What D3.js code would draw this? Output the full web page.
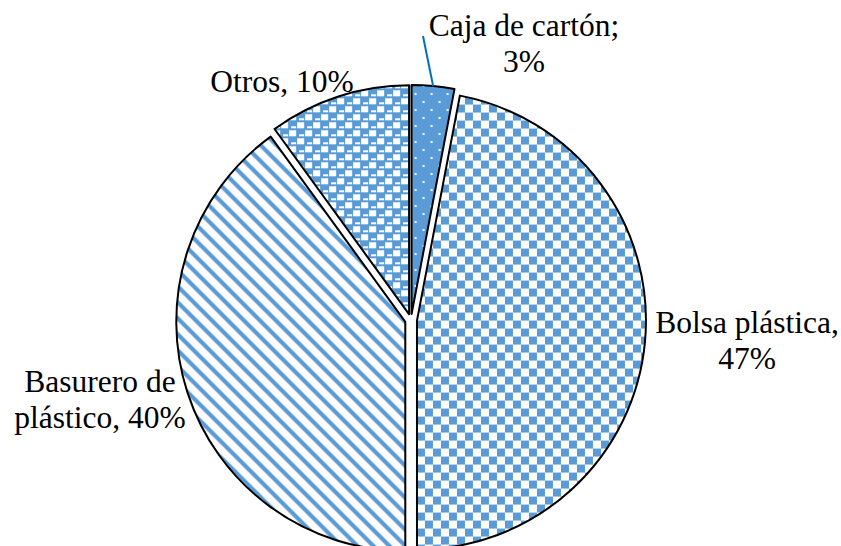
<!DOCTYPE html>
<html>
<head>
<meta charset="utf-8">
<script src="https://cdn.jsdelivr.net/npm/d3@7"></script>
<style>
  body { margin: 0; background: #fff; }
  svg { display: block; }
  .label { font-family: 'Liberation Serif', 'Times New Roman', serif; font-size: 31.5px; fill: #000; }
</style>
</head>
<body>
<div id="pie-chart"></div>
<script>
// data
const categories = ['Caja de cartón', 'Bolsa plástica', 'Basurero de plástico', 'Otros']
const values = [3, 47, 40, 10]
const labelLines = [
  ['Caja de cartón;', '3%'],
  ['Bolsa plástica,', '47%'],
  ['Basurero de', 'plástico, 40%'],
  ['Otros, 10%']
]

const width = 841
const height = 546
const radius = 229
const explode = 6
const cx = 411
const cy = 320

const blue = '#5b9bd5'

const svg = d3
  .select('#pie-chart')
  .append('svg')
  .attr('width', width)
  .attr('height', height)

const defs = svg.append('defs')

// dotted (Caja)
const dots = defs.append('pattern')
  .attr('id', 'pat-dots')
  .attr('patternUnits', 'userSpaceOnUse')
  .attr('width', 16)
  .attr('height', 16)
dots.append('rect').attr('width', 16).attr('height', 16).attr('fill', blue)
dots.append('rect').attr('x', 3).attr('y', 3).attr('width', 2).attr('height', 2).attr('fill', '#fff')
dots.append('rect').attr('x', 11).attr('y', 11).attr('width', 2).attr('height', 2).attr('fill', '#fff')

// large checkerboard (Bolsa)
const checker = defs.append('pattern')
  .attr('id', 'pat-checker')
  .attr('patternUnits', 'userSpaceOnUse')
  .attr('width', 16)
  .attr('height', 16)
checker.append('rect').attr('width', 16).attr('height', 16).attr('fill', '#fff')
checker.append('rect').attr('width', 8).attr('height', 8).attr('fill', blue)
checker.append('rect').attr('x', 8).attr('y', 8).attr('width', 8).attr('height', 8).attr('fill', blue)

// wide downward diagonal (Basurero)
const stripes = defs.append('pattern')
  .attr('id', 'pat-stripes')
  .attr('patternUnits', 'userSpaceOnUse')
  .attr('width', 16)
  .attr('height', 16)
stripes.append('rect').attr('width', 16).attr('height', 16).attr('fill', '#fff')
stripes.append('path')
  .attr('d', 'M-4,-4 L20,20 M-4,12 L4,20 M12,-4 L20,4')
  .attr('stroke', blue)
  .attr('stroke-width', 4.2)

// divot-like grid (Otros)
const divot = defs.append('pattern')
  .attr('id', 'pat-divot')
  .attr('patternUnits', 'userSpaceOnUse')
  .attr('width', 16)
  .attr('height', 16)
divot.append('rect').attr('width', 16).attr('height', 16).attr('fill', blue)
divot.append('rect').attr('x', 0).attr('y', 0).attr('width', 7).attr('height', 6).attr('fill', '#fff')
divot.append('rect').attr('x', 8).attr('y', 8).attr('width', 7).attr('height', 6).attr('fill', '#fff')
divot.append('rect').attr('x', 10).attr('y', 4).attr('width', 5).attr('height', 2).attr('fill', '#fff')
divot.append('rect').attr('x', 2).attr('y', 12).attr('width', 5).attr('height', 2).attr('fill', '#fff')

const fills = ['url(#pat-dots)', 'url(#pat-checker)', 'url(#pat-stripes)', 'url(#pat-divot)']

const pie = d3.pie().sort(null).value(d => d)
const arc = d3.arc().innerRadius(0).outerRadius(radius)

const slices = pie(values)

const g = svg.append('g')
  .attr('transform', 'translate(' + cx + ',' + cy + ')')

g.selectAll('path')
  .data(slices)
  .enter()
  .append('path')
  .attr('d', arc)
  .attr('transform', d => {
    const mid = (d.startAngle + d.endAngle) / 2
    return 'translate(' + (Math.sin(mid) * explode) + ',' + (-Math.cos(mid) * explode) + ')'
  })
  .attr('fill', (d, i) => fills[i])
  .attr('stroke', '#000')
  .attr('stroke-width', 2)
  .attr('stroke-linejoin', 'round')

// leader line for the small slice
const caja = slices[0]
const cajaMid = (caja.startAngle + caja.endAngle) / 2
const edge = d3.arc().innerRadius(radius).outerRadius(radius).centroid(caja)
g.append('line')
  .attr('x1', edge[0] + Math.sin(cajaMid) * explode)
  .attr('y1', edge[1] - Math.cos(cajaMid) * explode)
  .attr('x2', 12)
  .attr('y2', -284)
  .attr('stroke', '#0070c0')
  .attr('stroke-width', 2)

// label anchors (centre x, first baseline)
const labelPos = [
  [524, 36],
  [747, 333],
  [100, 392],
  [282, 92]
]

labelLines.forEach((lines, i) => {
  const t = svg.append('text')
    .attr('class', 'label')
    .attr('text-anchor', 'middle')
    .attr('x', labelPos[i][0])
    .attr('y', labelPos[i][1])
  lines.forEach((line, j) => {
    t.append('tspan')
      .attr('x', labelPos[i][0])
      .attr('dy', j === 0 ? 0 : 36)
      .text(line)
  })
})
</script>
</body>
</html>
